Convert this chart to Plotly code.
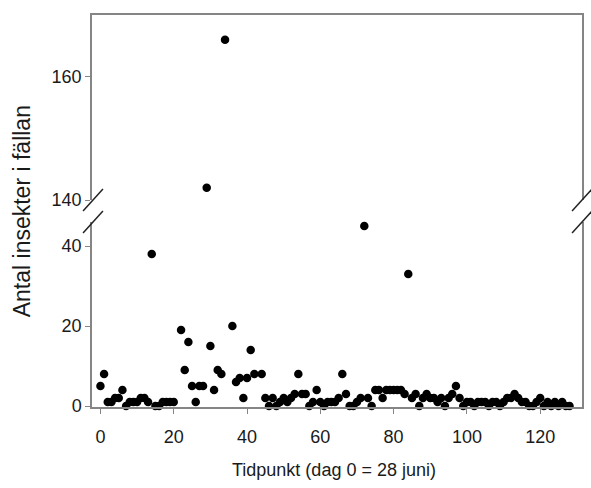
import plotly.graph_objects as go

# Day (dag 0 = 28 juni) and number of insects in the trap
days = [0, 1, 2, 3, 4, 5, 6, 7, 8, 9, 10, 11, 12, 13, 14, 15, 16, 17, 18, 19, 20,
        22, 23, 24, 25, 26, 27, 28, 29, 30, 31, 32, 33, 34, 36, 37, 38, 39, 40,
        41, 42, 44, 45, 46, 47, 48, 49, 50, 51, 52, 53, 54, 55, 56, 57, 58, 59,
        60, 61, 62, 63, 64, 65, 66, 67, 68, 69, 70, 71, 72, 73, 74, 75, 76, 77,
        78, 79, 80, 81, 82, 83, 84, 85, 86, 87, 88, 89, 90, 91, 92, 93, 94, 95,
        96, 97, 98, 99, 100, 101, 102, 103, 104, 105, 106, 107, 108, 109, 110,
        111, 112, 113, 114, 115, 116, 117, 118, 119, 120, 121, 122, 123, 124,
        125, 126, 127, 128]
counts = [5, 8, 1, 1, 2, 2, 4, 0, 1, 1, 1, 2, 2, 1, 38, 0, 0, 1, 1, 1, 1,
          19, 9, 16, 5, 1, 5, 5, 142, 15, 4, 9, 8, 166, 20, 6, 7, 2, 7,
          14, 8, 8, 2, 0, 2, 0, 1, 2, 1, 2, 3, 8, 3, 3, 0, 1, 4,
          1, 0, 1, 1, 1, 2, 8, 3, 0, 0, 1, 2, 45, 2, 0, 4, 4, 2,
          4, 4, 4, 4, 4, 3, 33, 2, 3, 0, 2, 3, 2, 2, 1, 2, 0, 2,
          3, 5, 2, 0, 1, 1, 0, 1, 1, 1, 0, 1, 1, 0, 1,
          2, 2, 3, 2, 1, 1, 0, 0, 1, 2, 0, 1, 0, 1,
          0, 1, 0, 0]

x_ticks = [0, 20, 40, 60, 80, 100, 120]
y_ticks_low = [0, 20, 40]
y_ticks_high = [140, 160]

break_value = 100
low_x = [d for d, c in zip(days, counts) if c < break_value]
low_y = [c for c in counts if c < break_value]
high_x = [d for d, c in zip(days, counts) if c >= break_value]
high_y = [c for c in counts if c >= break_value]

FONT = "Arial, Liberation Sans, sans-serif"
AX = "#858585"
TXT = "#1a1a1a"
marker = dict(color="black", size=8.5, line=dict(width=0))

fig = go.Figure()
fig.add_trace(go.Scatter(x=low_x, y=low_y, mode="markers", marker=marker,
                         xaxis="x", yaxis="y", cliponaxis=False, showlegend=False))
fig.add_trace(go.Scatter(x=high_x, y=high_y, mode="markers", marker=marker,
                         xaxis="x2", yaxis="y2", cliponaxis=False, showlegend=False))

W, H = 591, 488
L, R, T, B = 92, 7, 15, 81
ph = H - T - B
pw = W - L - R
low_top_px = 222
high_bot_px = 200
low_dom = [0, (H - B - low_top_px) / ph]
high_dom = [(H - B - high_bot_px) / ph, 1]

xrange_ = [-2.3, 131.4]
tickfont = dict(family=FONT, size=18, color=TXT)
fig.update_layout(
    width=W, height=H,
    margin=dict(l=L, r=R, t=T, b=B),
    paper_bgcolor="white", plot_bgcolor="white",
    font=dict(family=FONT, size=18, color=TXT),
    xaxis=dict(domain=[0, 1], range=xrange_, anchor="y", tickvals=x_ticks,
               showgrid=False, zeroline=False, showline=True, linecolor=AX,
               linewidth=1.5, ticks="outside", ticklen=5, tickcolor=AX,
               tickwidth=1.2, mirror=False, tickfont=tickfont,
               ticklabelstandoff=8),
    yaxis=dict(domain=low_dom, range=[-0.25, 46], anchor="x", tickvals=y_ticks_low,
               showgrid=False, zeroline=False, showline=True, linecolor=AX,
               linewidth=1.5, ticks="outside", ticklen=5, tickcolor=AX,
               tickwidth=1.2, mirror=True, tickfont=tickfont),
    xaxis2=dict(domain=[0, 1], range=xrange_, anchor="y2", side="top",
                showticklabels=False, ticks="", showgrid=False, zeroline=False,
                showline=True, linecolor=AX, linewidth=1.5, mirror=False),
    yaxis2=dict(domain=high_dom, range=[140, 170], anchor="x2", tickvals=y_ticks_high,
                showgrid=False, zeroline=False, showline=True, linecolor=AX,
                linewidth=1.5, ticks="outside", ticklen=5, tickcolor=AX,
                tickwidth=1.2, mirror=True, tickfont=tickfont),
)

# axis titles
fig.add_annotation(text="Antal insekter i fällan", xref="paper", yref="paper",
                   x=(22 - L) / pw, y=0.5, textangle=-90, showarrow=False,
                   xanchor="center", yanchor="middle",
                   font=dict(family=FONT, size=23, color=TXT))
fig.add_annotation(text="Tidpunkt (dag 0 = 28 juni)", xref="paper", yref="paper",
                   x=0.494, y=-(470 - (H - B)) / ph, showarrow=False,
                   xanchor="center", yanchor="middle",
                   font=dict(family=FONT, size=18, color=TXT))

# break marks (//) on both sides
def px_to_paper(px, py):
    return (px - L) / pw, (H - B - py) / ph

for cx in (L + 1, W - R):
    for cy in (high_bot_px, low_top_px):
        x0, y0 = px_to_paper(cx - 10, cy + 11)
        x1, y1 = px_to_paper(cx + 10, cy - 11)
        fig.add_shape(type="line", xref="paper", yref="paper",
                      x0=x0, y0=y0, x1=x1, y1=y1,
                      line=dict(color="#222222", width=1.5))

fig.write_html("out.html")
